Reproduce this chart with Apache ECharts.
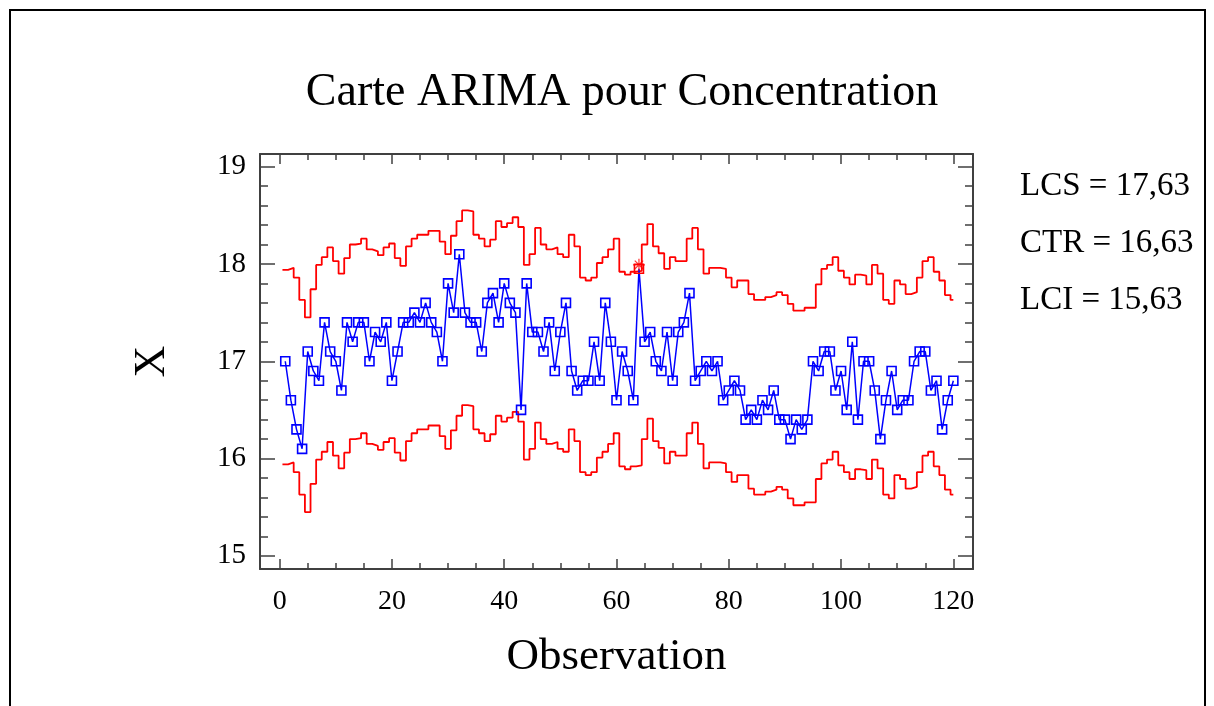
<!DOCTYPE html>
<html><head><meta charset="utf-8">
<script src="https://cdn.jsdelivr.net/npm/echarts@6/dist/echarts.min.js"></script>
<style>html,body{margin:0;padding:0;background:#fff}#c{width:1214px;height:706px}</style>
</head><body><div id="c"></div>
<script>
// Observation values (X) for observations 1..120
const values = [
  17.0,16.6,16.3,16.1,17.1,16.9,16.8,17.4,17.1,17.0,
  16.7,17.4,17.2,17.4,17.4,17.0,17.3,17.2,17.4,16.8,
  17.1,17.4,17.4,17.5,17.4,17.6,17.4,17.3,17.0,17.8,
  17.5,18.1,17.5,17.4,17.4,17.1,17.6,17.7,17.4,17.8,
  17.6,17.5,16.5,17.8,17.3,17.3,17.1,17.4,16.9,17.3,
  17.6,16.9,16.7,16.8,16.8,17.2,16.8,17.6,17.2,16.6,
  17.1,16.9,16.6,17.95,17.2,17.3,17.0,16.9,17.3,16.8,
  17.3,17.4,17.7,16.8,16.9,17.0,16.9,17.0,16.6,16.7,
  16.8,16.7,16.4,16.5,16.4,16.6,16.5,16.7,16.4,16.4,
  16.2,16.4,16.3,16.4,17.0,16.9,17.1,17.1,16.7,16.9,
  16.5,17.2,16.4,17.0,17.0,16.7,16.2,16.6,16.9,16.5,
  16.6,16.6,17.0,17.1,17.1,16.7,16.8,16.3,16.6,16.8
];
// Upper control limit (LCS) per observation
const upperLimit = [
  17.94,17.96,17.86,17.63,17.45,17.74,17.99,18.07,18.17,18.03,
  17.90,18.06,18.20,18.21,18.26,18.15,18.13,18.09,18.17,18.21,
  18.06,17.98,18.18,18.26,18.30,18.30,18.34,18.34,18.23,18.10,
  18.29,18.44,18.55,18.54,18.30,18.26,18.18,18.25,18.44,18.38,
  18.42,18.48,18.38,17.99,18.10,18.37,18.20,18.15,18.17,18.10,
  18.07,18.30,18.18,17.86,17.83,17.86,18.01,18.07,18.15,18.26,
  17.92,17.89,17.92,17.93,18.20,18.41,18.18,18.11,17.95,18.07,
  18.03,18.03,18.26,18.37,18.15,17.90,17.96,17.96,17.95,17.86,
  17.76,17.83,17.83,17.69,17.63,17.63,17.66,17.68,17.71,17.68,
  17.59,17.52,17.52,17.55,17.55,17.79,17.95,17.99,18.07,17.93,
  17.86,17.79,17.89,17.88,17.79,17.99,17.90,17.63,17.59,17.83,
  17.79,17.69,17.71,17.86,18.03,18.07,17.92,17.83,17.68,17.63
];
// Lower control limit (LCI) per observation
const lowerLimit = [
  15.94,15.96,15.86,15.63,15.45,15.74,15.99,16.07,16.17,16.03,
  15.90,16.06,16.20,16.21,16.26,16.15,16.13,16.09,16.17,16.21,
  16.06,15.98,16.18,16.26,16.30,16.30,16.34,16.34,16.23,16.10,
  16.29,16.44,16.55,16.54,16.30,16.26,16.18,16.25,16.44,16.38,
  16.42,16.48,16.38,15.99,16.10,16.37,16.20,16.15,16.17,16.10,
  16.07,16.30,16.18,15.86,15.83,15.86,16.01,16.07,16.15,16.26,
  15.92,15.89,15.92,15.93,16.20,16.41,16.18,16.11,15.95,16.07,
  16.03,16.03,16.26,16.37,16.15,15.90,15.96,15.96,15.95,15.86,
  15.76,15.83,15.83,15.69,15.63,15.63,15.66,15.68,15.71,15.68,
  15.59,15.52,15.52,15.55,15.55,15.79,15.95,15.99,16.07,15.93,
  15.86,15.79,15.89,15.88,15.79,15.99,15.90,15.63,15.59,15.83,
  15.79,15.69,15.71,15.86,16.03,16.07,15.92,15.83,15.68,15.63
];
const outOfControl = [64];
const xTickLabels = [0, 20, 40, 60, 80, 100, 120];
const xMinorTicks = [0,5,10,15,20,25,30,35,40,45,50,55,60,65,70,75,80,85,90,95,100,105,110,115,120];
const yTickLabels = [15, 16, 17, 18, 19];
const yMinorTicks = [15,15.2,15.4,15.6,15.8,16,16.2,16.4,16.6,16.8,17,17.2,17.4,17.6,17.8,18,18.2,18.4,18.6,18.8,19];
const titleText = 'Carte ARIMA pour Concentration';
const xName = 'Observation';
const yName = 'X';
const statsLines = ['LCS = 17,63', 'CTR = 16,63', 'LCI = 15,63'];

const SERIF = '"Liberation Serif", "DejaVu Serif", serif';
const FRAME = '#404040';
const XMIN = -3.5, XMAX = 123.5, YMIN = 14.865, YMAX = 19.13;

const obs = values.map((v, k) => k + 1);
const pointData = obs.map((i, k) => {
  const d = { value: [i, values[k]] };
  if (outOfControl.includes(i)) d.itemStyle = { borderColor: '#ff0000' };
  return d;
});
function stepData(arr) {
  const d = arr.map((u, k) => [k + 0.5, u]);
  d.push([arr.length, arr[arr.length - 1]]);
  return d;
}

function xAx(pos, major) {
  return {
    type: 'value', gridIndex: 0, position: pos, min: XMIN, max: XMAX,
    axisLine: { show: major, onZero: false, lineStyle: { color: FRAME, width: 2 } },
    axisTick: { show: true, inside: true, length: major ? 10 : 6,
      customValues: major ? xTickLabels : xMinorTicks,
      lineStyle: { color: FRAME, width: 1.5 } },
    axisLabel: { show: major && pos === 'bottom', customValues: xTickLabels,
      fontFamily: SERIF, fontSize: 28, color: '#000', margin: 19 },
    splitLine: { show: false },
    name: (major && pos === 'bottom') ? xName : '',
    nameLocation: 'middle', nameGap: 66,
    nameTextStyle: { fontFamily: SERIF, fontSize: 45, color: '#000' }
  };
}
function yAx(pos, major) {
  return {
    type: 'value', gridIndex: 0, position: pos, min: YMIN, max: YMAX,
    axisLine: { show: major, onZero: false, lineStyle: { color: FRAME, width: 2 } },
    axisTick: { show: true, inside: true, length: major ? 15 : 8,
      customValues: major ? yTickLabels : yMinorTicks,
      lineStyle: { color: FRAME, width: 1.5 } },
    axisLabel: { show: major && pos === 'left', customValues: yTickLabels,
      fontFamily: SERIF, fontSize: 29, color: '#000', margin: 14 },
    splitLine: { show: false },
    name: (major && pos === 'left') ? yName : '',
    nameLocation: 'middle', nameGap: 86, nameRotate: 90,
    nameTextStyle: { fontFamily: SERIF, fontSize: 44, color: '#000' }
  };
}

const chart = echarts.init(document.getElementById('c'), null, { renderer: 'canvas' });
chart.setOption({
  animation: false,
  backgroundColor: '#fff',
  title: {
    text: titleText, left: 617, top: 65, textAlign: 'center',
    textStyle: { fontFamily: SERIF, fontSize: 46, fontWeight: 'normal', color: '#000' }
  },
  grid: { left: 260, top: 154, width: 713, height: 415, containLabel: false },
  xAxis: [xAx('bottom', true), xAx('bottom', false), xAx('top', true), xAx('top', false)],
  yAxis: [yAx('left', true), yAx('left', false), yAx('right', true), yAx('right', false)],
  graphic: [
    { type: 'rect', shape: { x: 10, y: 10, width: 1195, height: 740 },
      style: { fill: 'none', stroke: '#000', lineWidth: 2 }, silent: true },
    ...statsLines.map((t, k) => ({
      type: 'text', left: 1020, top: 170 + k * 57,
      style: { text: t, font: '33px ' + SERIF, fill: '#000' }, silent: true
    }))
  ],
  series: [
    { type: 'line', name: 'LCS', data: stepData(upperLimit), step: 'end', symbol: 'none',
      lineStyle: { color: '#ff0000', width: 1.8 }, z: 2 },
    { type: 'line', name: 'LCI', data: stepData(lowerLimit), step: 'end', symbol: 'none',
      lineStyle: { color: '#ff0000', width: 1.8 }, z: 2 },
    { type: 'line', name: 'X', data: pointData, symbol: 'rect', symbolSize: 9,
      lineStyle: { color: '#0000ff', width: 1.5 },
      itemStyle: { color: 'rgba(255,255,255,0)', borderColor: '#0000ff', borderWidth: 1.6 }, z: 3 },
    { type: 'scatter', name: 'hors contrôle',
      data: outOfControl.map(i => [i, values[i - 1]]),
      symbol: 'path://M0,-5L0,5M-5,0L5,0M-3.5,-3.5L3.5,3.5M-3.5,3.5L3.5,-3.5',
      symbolSize: 12, symbolOffset: [0, -4],
      itemStyle: { color: 'rgba(0,0,0,0)', borderColor: '#ff0000', borderWidth: 1.2 }, z: 4 }
  ]
});
</script></body></html>
